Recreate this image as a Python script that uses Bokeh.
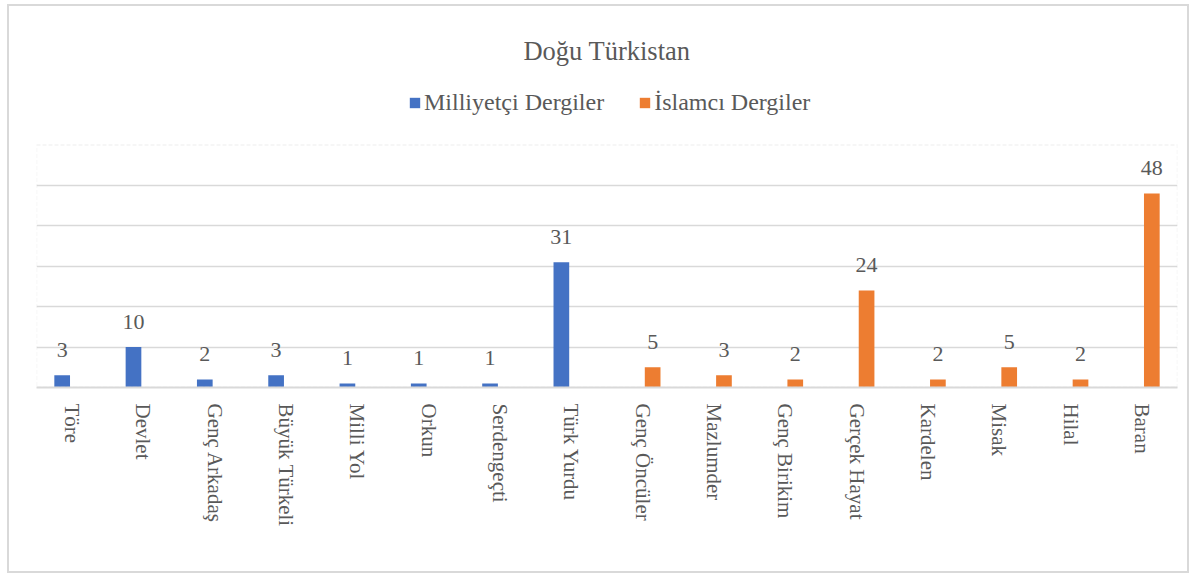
import math
from bokeh.plotting import figure
from bokeh.models import (ColumnDataSource, Legend, LegendItem, FixedTicker, FactorRange,
                          Range1d, Label, BoxAnnotation)
from bokeh.transform import dodge
from bokeh.core.properties import value
from bokeh.embed import file_html
from bokeh.resources import INLINE

categories = ["Töre", "Devlet", "Genç Arkadaş", "Büyük Türkeli", "Milli Yol", "Orkun",
              "Serdengeçti", "Türk Yurdu", "Genç Öncüler", "Mazlumder", "Genç Birikim",
              "Gerçek Hayat", "Kardelen", "Misak", "Hilal", "Baran"]
milliyetci_cats = ["Töre", "Devlet", "Genç Arkadaş", "Büyük Türkeli", "Milli Yol", "Orkun",
                   "Serdengeçti", "Türk Yurdu"]
milliyetci_vals = [3, 10, 2, 3, 1, 1, 1, 31]
islamci_cats = ["Genç Öncüler", "Mazlumder", "Genç Birikim", "Gerçek Hayat", "Kardelen",
                "Misak", "Hilal", "Baran"]
islamci_vals = [5, 3, 2, 24, 2, 5, 2, 48]
series_names = ["Milliyetçi Dergiler", "İslamcı Dergiler"]
title_text = "Doğu Türkistan"
y_max = 60
grid_ticks = [10, 20, 30, 40, 50]
colors = ["#4472C4", "#ED7D31"]

FONT = "Liberation Serif"
TXT = "#595959"
GRID = "#d9d9d9"

# frame extends to the top of the canvas; the plot area itself is 0..60 (4 px per unit)
p = figure(width=1178, height=565, x_range=FactorRange(*categories, range_padding=0),
           y_range=Range1d(0, 94.25), output_backend="svg", toolbar_location=None,
           title=None,
           min_border_left=27, min_border_right=14, min_border_top=0, min_border_bottom=188)
p.margin = (4, 0, 0, 7)
p.styles = {"border": "2px solid #d9d9d9", "box-sizing": "content-box"}
p.outline_line_color = None

src_m = ColumnDataSource(dict(cat=milliyetci_cats, val=milliyetci_vals,
                              lab=[str(v) for v in milliyetci_vals]))
src_i = ColumnDataSource(dict(cat=islamci_cats, val=islamci_vals,
                              lab=[str(v) for v in islamci_vals]))

r_m = p.vbar(x=dodge("cat", -0.14, range=p.x_range), top="val", width=0.22, source=src_m,
             fill_color=colors[0], line_color=None)
r_i = p.vbar(x=dodge("cat", 0.14, range=p.x_range), top="val", width=0.22, source=src_i,
             fill_color=colors[1], line_color=None)

for src, off in ((src_m, -0.14), (src_i, 0.14)):
    p.text(x=dodge("cat", off, range=p.x_range), y="val", text="lab", source=src,
           text_font=value(FONT), text_font_size="22px", text_color=TXT,
           text_align="center", text_baseline="alphabetic", y_offset=-25)

# dashed plot-area border
p.add_layout(BoxAnnotation(left=0, right=len(categories), bottom=0, top=y_max,
                           fill_alpha=0, line_color=GRID, line_width=1.5, line_dash="4 2"))

p.add_layout(Label(x=len(categories) / 2, y=83.25, text=title_text, text_align="center",
                   text_baseline="alphabetic", text_font=FONT, text_font_size="26.5px",
                   text_color=TXT))

legend = Legend(items=[LegendItem(label=series_names[0], renderers=[r_m]),
                       LegendItem(label=series_names[1], renderers=[r_i])],
                orientation="horizontal", location=(372, 271),
                glyph_width=13, glyph_height=13, label_standoff=3, spacing=34,
                padding=0, margin=0, background_fill_alpha=0, border_line_alpha=0,
                label_text_font=FONT, label_text_font_size="24px", label_text_color=TXT)
p.add_layout(legend, "center")

p.yaxis.visible = False
p.ygrid.ticker = FixedTicker(ticks=grid_ticks)
p.ygrid.grid_line_color = GRID
p.ygrid.grid_line_width = 1.5
p.xgrid.visible = False

p.xaxis.axis_line_color = GRID
p.xaxis.axis_line_width = 2
p.xaxis.major_tick_line_color = None
p.xaxis.minor_tick_line_color = None
p.xaxis.major_label_orientation = -math.pi / 2
p.xaxis.major_label_standoff = 10
p.xaxis.major_label_text_font = FONT
p.xaxis.major_label_text_font_size = "21px"
p.xaxis.major_label_text_color = TXT

open("out.html", "w").write(file_html(p, INLINE))
